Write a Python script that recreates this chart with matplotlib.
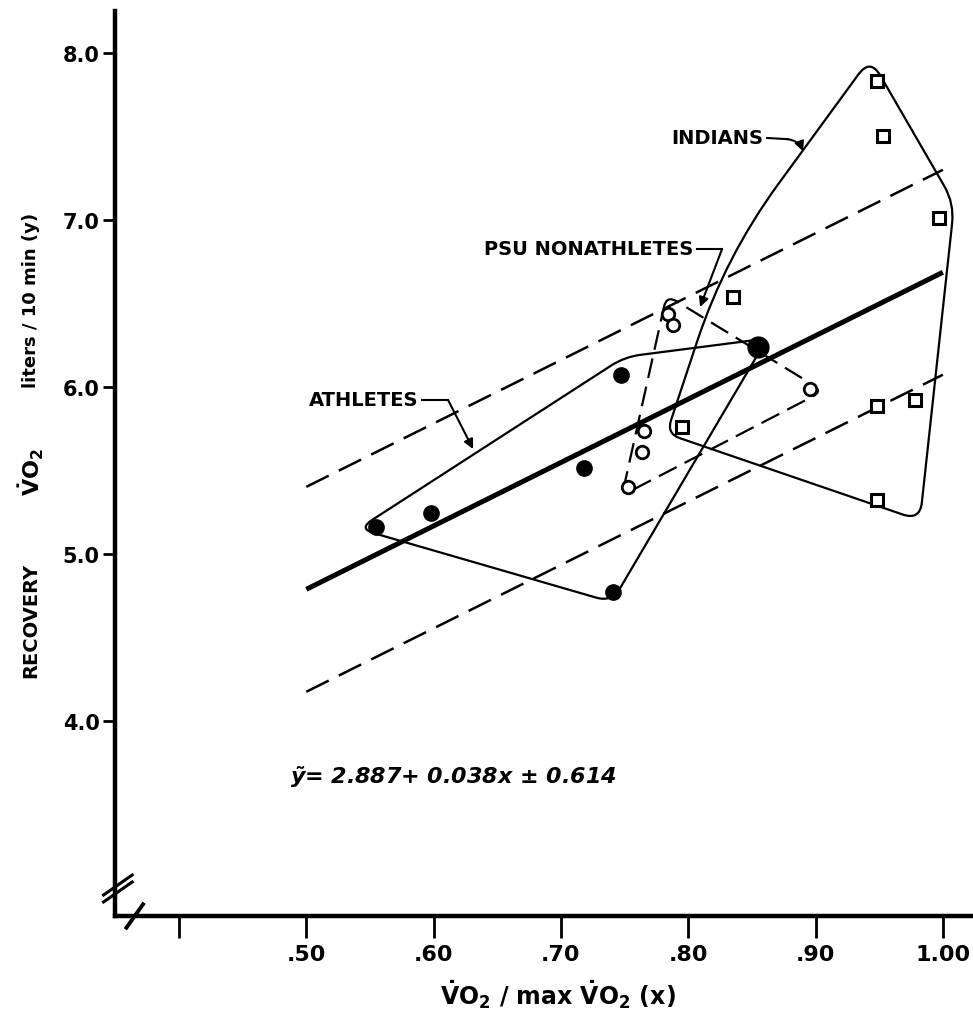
import numpy as np
import matplotlib
matplotlib.use("Agg")
import matplotlib.pyplot as plt
from matplotlib.path import Path
from matplotlib.patches import PathPatch

plt.rcParams['font.family'] = ['DejaVu Sans']
plt.rcParams['font.weight'] = 'bold'
plt.rcParams['mathtext.fontset'] = 'custom'
plt.rcParams['mathtext.rm'] = 'DejaVu Sans:bold'
plt.rcParams['mathtext.it'] = 'DejaVu Sans:bold:italic'
plt.rcParams['mathtext.bf'] = 'DejaVu Sans:bold'
plt.rcParams['mathtext.default'] = 'rm'

# --- data ---
athletes_x = [0.555, 0.598, 0.718, 0.747, 0.741, 0.855]
athletes_y = [5.16, 5.245, 5.515, 6.07, 4.77, 6.24]

psu_x = [0.784, 0.788, 0.765, 0.764, 0.753, 0.896]
psu_y = [6.44, 6.37, 5.735, 5.61, 5.40, 5.99]

indians_x = [0.948, 0.953, 0.997, 0.835, 0.795, 0.948, 0.978, 0.948]
indians_y = [7.835, 7.505, 7.01, 6.54, 5.76, 5.885, 5.92, 5.32]

# regression  y = a + b*x  (x in percent)  +/- se
reg_a = 2.887
reg_b = 0.038
reg_se = 0.614
reg_x = [0.50, 1.00]

# group envelopes (outline vertices)
athletes_env_x = [0.541, 0.750, 0.862, 0.740]
athletes_env_y = [5.15, 6.18, 6.29, 4.71]
psu_env_x = [0.783, 0.906, 0.748]
psu_env_y = [6.55, 5.975, 5.35]
indians_env_x = [0.943, 1.009, 0.982, 0.783, 0.829]
indians_env_y = [7.97, 7.10, 5.20, 5.72, 6.78]

xticks = [0.40, 0.50, 0.60, 0.70, 0.80, 0.90, 1.00]
xticklabels = ['', '.50', '.60', '.70', '.80', '.90', '1.00']
yticks = [4, 5, 6, 7, 8]
yticklabels = ['4.0', '5.0', '6.0', '7.0', '8.0']

W, H = 973, 1012
fig = plt.figure(figsize=(W / 100, H / 100), dpi=100)
ax = fig.add_axes([115 / W, 1 - 917 / H, 1 - 115 / W, (917 - 12) / H])
ax.set_xlim(0.3497, 1.0237)
ax.set_ylim(2.829, 8.253)

for s in ['top', 'right']:
    ax.spines[s].set_visible(False)
for s in ['left', 'bottom']:
    ax.spines[s].set_linewidth(3.2)

ax.set_xticks(xticks)
ax.set_xticklabels(xticklabels, fontsize=16, fontweight='bold')
ax.set_yticks(yticks)
ax.set_yticklabels(yticklabels, fontsize=15, fontweight='bold')
ax.tick_params(axis='x', direction='out', length=16, width=2, pad=4)
ax.tick_params(axis='y', direction='out', length=9, width=2, pad=2)


def rounded_outline(xs, ys, radii):
    # closed outline with rounded corners, radii in pixels
    pts = ax.transData.transform(np.column_stack([xs, ys]))
    n = len(pts)
    if np.isscalar(radii):
        radii = [radii] * n
    verts, codes = [], []
    for i in range(n):
        p0, p1, p2 = pts[i - 1], pts[i], pts[(i + 1) % n]
        r = radii[i]
        a = p1 + (p0 - p1) * min(r / np.linalg.norm(p0 - p1), 0.48)
        b = p1 + (p2 - p1) * min(r / np.linalg.norm(p2 - p1), 0.48)
        verts += [a, p1, b]
        codes += [Path.MOVETO if i == 0 else Path.LINETO, Path.CURVE3, Path.CURVE3]
    verts.append(verts[0])
    codes.append(Path.LINETO)
    verts = ax.transData.inverted().transform(np.array(verts))
    return Path(verts, codes)


ax.add_patch(PathPatch(rounded_outline(athletes_env_x, athletes_env_y, 16),
                       fill=False, lw=1.6, ec='black'))
ax.add_patch(PathPatch(rounded_outline(indians_env_x, indians_env_y,
                                       [20, 20, 18, 14, 90]),
                       fill=False, lw=1.6, ec='black'))
ax.add_patch(PathPatch(rounded_outline(psu_env_x, psu_env_y, 12),
                       fill=False, lw=1.6, ec='black', ls=(0, (9, 4))))

# regression line and limits
rx = np.array(reg_x)
ry = reg_a + reg_b * 100 * rx
ax.plot(rx, ry, color='black', lw=3.6, solid_capstyle='butt')
ax.plot(rx, ry + reg_se, color='black', lw=1.8, ls=(0, (10, 4.5)))
ax.plot(rx, ry - reg_se, color='black', lw=1.8, ls=(0, (10, 4.5)))

# data points
ax.plot(athletes_x[:-1], athletes_y[:-1], 'o', color='black', ms=11)
ax.plot(athletes_x[-1:], athletes_y[-1:], 'o', color='black', ms=15)
ax.plot(psu_x, psu_y, 'o', mfc='white', mec='black', mew=2, ms=9)
ax.plot(indians_x, indians_y, 's', mfc='white', mec='black', mew=2.2, ms=9)

# group labels with leaders
lab_kw = dict(fontsize=14, fontweight='bold', va='center', ha='right')
arrow_kw = dict(arrowstyle='-|>', color='black', lw=1.5, mutation_scale=14,
                shrinkA=0, shrinkB=0)

ax.text(0.5878, 5.922, 'ATHLETES', **lab_kw)
ax.plot([0.591, 0.6113], [5.922, 5.922], color='black', lw=1.5)
ax.annotate('', xy=(0.631, 5.628), xytext=(0.6113, 5.922), arrowprops=arrow_kw)

ax.text(0.8038, 6.827, 'PSU NONATHLETES', **lab_kw)
ax.plot([0.8065, 0.8266], [6.827, 6.827], color='black', lw=1.5)
ax.annotate('', xy=(0.8093, 6.479), xytext=(0.8266, 6.827), arrowprops=arrow_kw)

ax.text(0.8588, 7.492, 'INDIANS', **lab_kw)
ax.plot([0.862, 0.8778], [7.492, 7.485], color='black', lw=1.5)
ax.annotate('', xy=(0.8902, 7.413), xytext=(0.8778, 7.485),
            arrowprops=dict(arrow_kw, connectionstyle='arc3,rad=-0.3'))

# equation
ax.text(0.487, 3.668, r'$\mathit{\tilde{y}}$= 2.887+ 0.038x ± 0.614', fontsize=16,
        fontweight='bold', style='italic', va='center', ha='left')

# axis breaks
for dy in (0, 7):
    ax.plot([0.3407, 0.3632],
            [2.829 + (14 + dy) / 166.85, 2.829 + (34 + dy) / 166.85],
            color='black', lw=2.2, clip_on=False)
ax.plot([0.3587, 0.3717], [2.759, 2.899], color='black', lw=2.8, clip_on=False)

# axis labels
fig.text(31 / W, 1 - 620 / H, 'RECOVERY', rotation=90, fontsize=14,
         fontweight='bold', ha='center', va='center')
fig.text(31 / W, 1 - 472 / H, r'$\dot{V}O_2$', rotation=90, fontsize=16,
         ha='center', va='center')
fig.text(31 / W, 1 - 300 / H, 'liters / 10 min (y)', rotation=90, fontsize=13,
         fontweight='bold', ha='center', va='center')
fig.text(558 / W, 1 - 995 / H, r'$\dot{V}O_2$ / max $\dot{V}O_2$ (x)',
         fontsize=17, ha='center', va='center')

fig.savefig('out.png', dpi=100)
